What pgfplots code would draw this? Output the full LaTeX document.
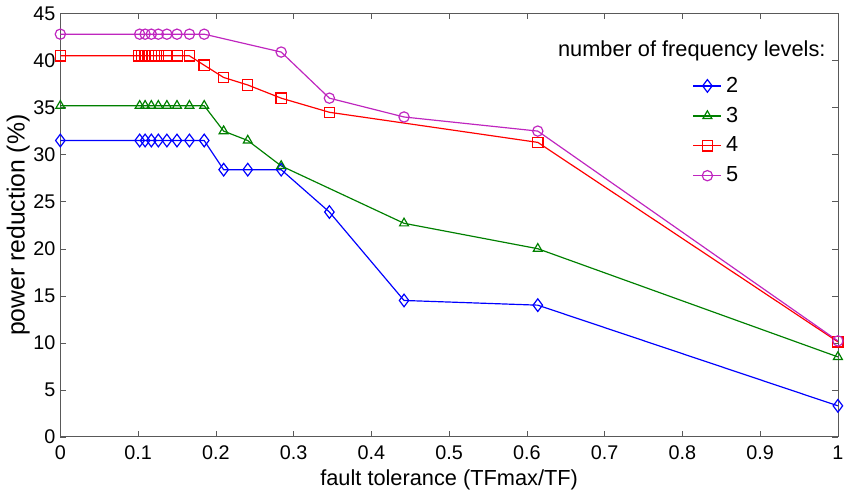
\documentclass[border=0pt]{standalone}
\usepackage{fontspec}
\setmainfont{Liberation Sans}
\usepackage{pgfplots}
\pgfplotsset{compat=1.18}
\definecolor{mblue}{rgb}{0,0,1}
\definecolor{mgreen}{rgb}{0,0.5,0}
\definecolor{mred}{rgb}{1,0,0}
\definecolor{mpurple}{rgb}{0.75,0.15,0.75}
\begin{document}
\begin{tikzpicture}
  \begin{axis}[
      scale only axis, width=393pt, height=214pt,
      xmin=0, xmax=1, ymin=0, ymax=45,
      xtick={0,0.1,...,1}, ytick={0,5,...,45},
      xticklabels={0,0.1,0.2,0.3,0.4,0.5,0.6,0.7,0.8,0.9,1},
      tick align=inside, tick pos=both,
      major tick length=3pt,
      axis line style={gray!70!black},
      tick style={gray!70!black},
      xlabel={fault tolerance (TFmax/TF)},
      ylabel={power reduction (\%)},
      xlabel style={font=\fontsize{11}{12}\selectfont, inner sep=1.5pt},
      ylabel style={font=\fontsize{12.5}{13}\selectfont, yshift=-5pt},
      tick label style={font=\fontsize{10}{11}\selectfont},
      xticklabel style={yshift=-1pt},
      yticklabel style={xshift=1pt},
      /pgf/number format/assume math mode=true,
      every axis plot/.append style={line width=0.6pt, mark size=2.6pt, mark options={solid, fill=none}},
      legend style={font=\fontsize{11}{12}\selectfont, draw=none, fill=none,
        at={(rel axis cs:0.845,0.87)}, anchor=north, row sep=2pt},
      legend cell align=left,
      legend image code/.code={
        \draw[mark repeat=2, mark phase=2, #1] plot coordinates {(0cm,0cm) (0.25cm,0cm) (0.5cm,0cm)};},
    ]
    \addplot[mblue, mark=diamond, mark size=3.2pt] coordinates {
      (0,31.5) (0.102,31.5) (0.109,31.5) (0.117,31.5) (0.126,31.5) (0.137,31.5)
      (0.150,31.5) (0.166,31.5) (0.185,31.5) (0.210,28.4) (0.241,28.4) (0.284,28.4)
      (0.346,23.9) (0.442,14.5) (0.614,14.0) (1,3.3)};
    \addlegendentry{2}
    \addplot[mgreen, mark=triangle] coordinates {
      (0,35.2) (0.102,35.2) (0.109,35.2) (0.117,35.2) (0.126,35.2) (0.137,35.2)
      (0.150,35.2) (0.166,35.2) (0.185,35.2) (0.210,32.5) (0.241,31.5) (0.284,28.8)
      (0.442,22.7) (0.614,20.0) (1,8.5)};
    \addlegendentry{3}
    \addplot[mred, mark=square] coordinates {
      (0,40.5) (0.101,40.5) (0.105,40.5) (0.109,40.5) (0.113,40.5) (0.117,40.5)
      (0.121,40.5) (0.126,40.5) (0.137,40.5) (0.150,40.5) (0.166,40.5)
      (0.185,39.5) (0.210,38.2) (0.241,37.4) (0.284,36.0) (0.346,34.5)
      (0.614,31.3) (1,10.1)};
    \addlegendentry{4}
    \addplot[mpurple, mark=o] coordinates {
      (0,42.8) (0.102,42.8) (0.109,42.8) (0.117,42.8) (0.126,42.8) (0.137,42.8)
      (0.150,42.8) (0.166,42.8) (0.185,42.8) (0.284,40.9) (0.346,36.0)
      (0.442,34.0) (0.614,32.5) (1,10.2)};
    \addlegendentry{5}
    \node[anchor=east, font=\fontsize{11}{12}\selectfont] at (rel axis cs:0.993,0.912) {number of frequency levels:};
    \path (rel axis cs:0,1) ++(0,7pt);
  \end{axis}
\end{tikzpicture}
\end{document}
